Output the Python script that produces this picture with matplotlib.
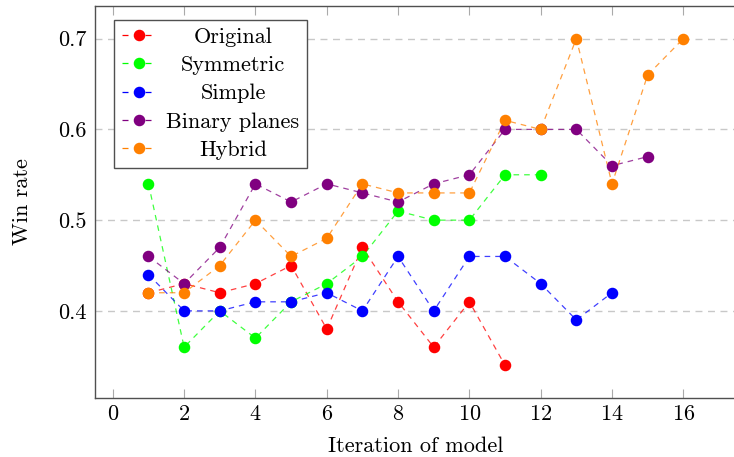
import matplotlib
matplotlib.use("Agg")
import matplotlib.pyplot as plt

plt.rcParams["font.family"] = "serif"
plt.rcParams["font.serif"] = ["cmr10"]
plt.rcParams["mathtext.fontset"] = "cm"
plt.rcParams["axes.formatter.use_mathtext"] = True
plt.rcParams["font.size"] = 16

# win rate per model iteration
orig_x = list(range(1, 12))
orig_y = [0.42, 0.43, 0.42, 0.43, 0.45, 0.38, 0.47, 0.41, 0.36, 0.41, 0.34]

sym_x = list(range(1, 13))
sym_y = [0.54, 0.36, 0.40, 0.37, 0.41, 0.43, 0.46, 0.51, 0.50, 0.50, 0.55, 0.55]

simple_x = list(range(1, 15))
simple_y = [0.44, 0.40, 0.40, 0.41, 0.41, 0.42, 0.40, 0.46, 0.40, 0.46, 0.46,
            0.43, 0.39, 0.42]

binary_x = list(range(1, 16))
binary_y = [0.46, 0.43, 0.47, 0.54, 0.52, 0.54, 0.53, 0.52, 0.54, 0.55, 0.60,
            0.60, 0.60, 0.56, 0.57]

hybrid_x = list(range(1, 17))
hybrid_y = [0.42, 0.42, 0.45, 0.50, 0.46, 0.48, 0.54, 0.53, 0.53, 0.53, 0.61,
            0.60, 0.70, 0.54, 0.66, 0.70]

series = [
    ("Original", orig_x, orig_y, (1.0, 0.0, 0.0)),
    ("Symmetric", sym_x, sym_y, (0.0, 1.0, 0.0)),
    ("Simple", simple_x, simple_y, (0.0, 0.0, 1.0)),
    ("Binary planes", binary_x, binary_y, (0.5, 0.0, 0.5)),
    ("Hybrid", hybrid_x, hybrid_y, (1.0, 0.5, 0.0)),
]

fig = plt.figure(figsize=(7.34, 4.57), dpi=100)
ax = fig.add_axes([95 / 734, 59 / 457, 641.8 / 734, 392 / 457])

for label, xs, ys, col in series:
    ax.plot(xs, ys, color=col, lw=0.9, alpha=0.75, linestyle=(0, (4.5, 4)),
            zorder=3)
    ax.plot(xs, ys, linestyle="none", marker="o", ms=7.3, color=col, zorder=4)
    # proxy for legend: "- o -"
    ax.plot([], [], color=col, lw=0.9, alpha=0.75,
            linestyle=(0, (4.8, 13.6)), label=label)

ax.set_xlim(-0.5, 17.5)
ax.set_ylim(0.304, 0.736)
ax.set_xticks([0, 2, 4, 6, 8, 10, 12, 14, 16])
ax.set_yticks([0.4, 0.5, 0.6, 0.7])
ax.set_yticklabels(["0.4", "0.5", "0.6", "0.7"])

ax.yaxis.grid(True, color="#c8c8c8", lw=1.0, linestyle=(0, (5, 4)))
ax.set_axisbelow(True)

ax.tick_params(axis="x", direction="in", length=6.5, width=0.8,
               color="#aaaaaa", top=True, pad=5)
ax.tick_params(axis="y", length=0, pad=6)

for sp in ax.spines.values():
    sp.set_color("#505050")
    sp.set_linewidth(1.0)

ax.set_xlabel("Iteration of model", labelpad=9)
ax.set_ylabel("Win rate", labelpad=19)

leg = ax.legend(loc="upper left", bbox_to_anchor=(0.030, 0.965),
                borderaxespad=0, fancybox=False, framealpha=1,
                edgecolor="#505050", handlelength=1.55, handletextpad=0.45,
                borderpad=0.35, labelspacing=0.39)
leg.get_frame().set_linewidth(1.0)

# put the dots in the middle of the legend handles
for hl, (label, xs, ys, col) in zip(leg.get_lines(), series):
    hl.set_marker("o")
    hl.set_markersize(7.3)
    hl.set_markerfacecolor(col)
    hl.set_markeredgecolor(col)
    hl.set_alpha(None)

# center the labels inside the legend like pgfplots does
fig.canvas.draw()
texts = leg.get_texts()
widths = [t.get_window_extent().width for t in texts]
wmax = max(widths)
for t, w in zip(texts, widths):
    t.set_position(((wmax - w) / 2, 0))

fig.savefig("out.png", dpi=100)
